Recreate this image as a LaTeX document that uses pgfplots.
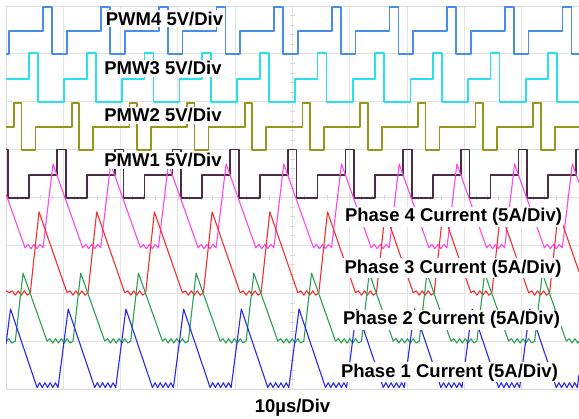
\documentclass[border=0pt]{standalone}
\usepackage{pgfplots}
\pgfplotsset{compat=1.18}
\usepackage{fontspec}
\setmainfont{Liberation Sans}
\definecolor{pwmfour}{RGB}{70,142,232}
\definecolor{pwmthree}{RGB}{40,225,240}
\definecolor{pwmtwo}{RGB}{150,150,30}
\definecolor{pwmone}{RGB}{75,45,65}
\definecolor{curfour}{RGB}{255,70,235}
\definecolor{curthree}{RGB}{245,45,45}
\definecolor{curtwo}{RGB}{40,160,80}
\definecolor{curone}{RGB}{40,40,235}
\tikzset{lab/.style={anchor=base, fill=white, inner sep=1.5pt, font=\fontsize{18.5}{20}\selectfont\bfseries}}
\pgfplotsset{pwm/.style={const plot mark left, line width=1.7pt, line join=round},
  cur/.style={sharp plot, line width=1.1pt, line join=round}}
\begin{document}
\begin{tikzpicture}
\path[use as bounding box] (-6pt,-30pt) rectangle (573pt,389pt);
\begin{axis}[at={(0,0)}, anchor=south west, scale only axis,
  width=573pt, height=383pt,
  xmin=0, xmax=100, ymin=0, ymax=8,
  xtick={0,10,...,100}, ytick={0,1,...,8},
  xticklabels={}, yticklabels={},
  major tick length=0pt,
  grid=major, major grid style={gray!22, line width=0.9pt},
  axis line style={gray!30, line width=0.9pt}]
\pgfplotsinvokeforeach{0,0.2,...,8}{\draw[gray!30, line width=0.6pt] (axis cs:49.65,#1) -- (axis cs:50.35,#1);}
\pgfplotsinvokeforeach{0,2,...,100}{\draw[gray!30, line width=0.6pt] (axis cs:#1,3.955) -- (axis cs:#1,4.045);}
% PWM4
\addplot[pwm, pwmfour] coordinates {(0,7.00) (0.58,7.48) (6.51,7.98) (8.08,7.00) (10.65,7.48) (16.58,7.98) (18.15,7.00) (20.72,7.48) (26.65,7.98) (28.22,7.00) (30.79,7.48) (36.72,7.98) (38.29,7.00) (40.86,7.48) (46.79,7.98) (48.36,7.00) (50.93,7.48) (56.86,7.98) (58.43,7.00) (61.00,7.48) (66.93,7.98) (68.50,7.00) (71.07,7.48) (77.00,7.98) (78.57,7.00) (81.14,7.48) (87.07,7.98) (88.64,7.00) (91.21,7.48) (97.14,7.98) (98.71,7.00) (100,7.00)};
% PWM3
\addplot[pwm, pwmthree] coordinates {(0,6.48) (4.01,7.02) (5.58,5.99) (10.16,6.48) (14.08,7.02) (15.65,5.99) (20.23,6.48) (24.15,7.02) (25.72,5.99) (30.30,6.48) (34.22,7.02) (35.79,5.99) (40.37,6.48) (44.29,7.02) (45.86,5.99) (50.44,6.48) (54.36,7.02) (55.93,5.99) (60.51,6.48) (64.43,7.02) (66.00,5.99) (70.58,6.48) (74.50,7.02) (76.07,5.99) (80.65,6.48) (84.57,7.02) (86.14,5.99) (90.72,6.48) (94.64,7.02) (96.21,5.99) (100,5.99)};
% PWM2
\addplot[pwm, pwmtwo] coordinates {(0,5.47) (1.40,5.97) (2.71,4.99) (5.15,5.47) (11.47,5.97) (12.78,4.99) (15.22,5.47) (21.54,5.97) (22.85,4.99) (25.29,5.47) (31.61,5.97) (32.92,4.99) (35.36,5.47) (41.68,5.97) (42.99,4.99) (45.43,5.47) (51.75,5.97) (53.06,4.99) (55.50,5.47) (61.82,5.97) (63.13,4.99) (65.57,5.47) (71.89,5.97) (73.20,4.99) (75.64,5.47) (81.96,5.97) (83.27,4.99) (85.71,5.47) (92.03,5.97) (93.34,4.99) (95.78,5.47) (100,5.47)};
% PWM1
\addplot[pwm, pwmone] coordinates {(0,5.00) (0.35,3.99) (4.01,4.47) (8.90,5.00) (10.42,3.99) (14.08,4.47) (18.97,5.00) (20.49,3.99) (24.15,4.47) (29.04,5.00) (30.56,3.99) (34.22,4.47) (39.11,5.00) (40.63,3.99) (44.29,4.47) (49.18,5.00) (50.70,3.99) (54.36,4.47) (59.25,5.00) (60.77,3.99) (64.43,4.47) (69.32,5.00) (70.84,3.99) (74.50,4.47) (79.39,5.00) (80.91,3.99) (84.57,4.47) (89.46,5.00) (90.98,3.99) (94.64,4.47) (99.53,5.00) (100,5.00)};
% Phase 4 current
\addplot[cur, curfour] coordinates {(0,4.07)
(3.32,2.95) (3.84,3.02) (4.36,2.93) (4.88,3.02) (5.40,2.93) (5.92,3.02) (6.46,2.95) (8.20,4.70)
(13.39,2.95) (13.91,3.02) (14.43,2.93) (14.95,3.02) (15.47,2.93) (15.99,3.02) (16.53,2.95) (18.27,4.70)
(23.46,2.95) (23.98,3.02) (24.50,2.93) (25.02,3.02) (25.54,2.93) (26.06,3.02) (26.60,2.95) (28.34,4.70)
(33.53,2.95) (34.05,3.02) (34.57,2.93) (35.09,3.02) (35.61,2.93) (36.13,3.02) (36.67,2.95) (38.41,4.70)
(43.60,2.95) (44.12,3.02) (44.64,2.93) (45.16,3.02) (45.68,2.93) (46.20,3.02) (46.74,2.95) (48.48,4.70)
(53.67,2.95) (54.19,3.02) (54.71,2.93) (55.23,3.02) (55.75,2.93) (56.27,3.02) (56.81,2.95) (58.55,4.70)
(63.74,2.95) (64.26,3.02) (64.78,2.93) (65.30,3.02) (65.82,2.93) (66.34,3.02) (66.88,2.95) (68.62,4.70)
(73.81,2.95) (74.33,3.02) (74.85,2.93) (75.37,3.02) (75.89,2.93) (76.41,3.02) (76.95,2.95) (78.69,4.70)
(83.88,2.95) (84.40,3.02) (84.92,2.93) (85.44,3.02) (85.96,2.93) (86.48,3.02) (87.02,2.95) (88.76,4.70)
(93.95,2.95) (94.47,3.02) (94.99,2.93) (95.51,3.02) (96.03,2.93) (96.55,3.02) (97.09,2.95) (98.83,4.70)
(100,4.31)};
% Phase 3 current
\addplot[cur, curthree] coordinates {(0,2.05)
(0.58,2.01) (1.10,2.05) (1.62,1.96) (2.14,2.05) (2.66,1.96) (3.18,2.05) (3.70,1.96) (4.24,2.01) (5.76,3.70)
(10.65,2.01) (11.17,2.05) (11.69,1.96) (12.21,2.05) (12.73,1.96) (13.25,2.05) (13.77,1.96) (14.31,2.01) (15.83,3.70)
(20.72,2.01) (21.24,2.05) (21.76,1.96) (22.28,2.05) (22.80,1.96) (23.32,2.05) (23.84,1.96) (24.38,2.01) (25.90,3.70)
(30.79,2.01) (31.31,2.05) (31.83,1.96) (32.35,2.05) (32.87,1.96) (33.39,2.05) (33.91,1.96) (34.45,2.01) (35.97,3.70)
(40.86,2.01) (41.38,2.05) (41.90,1.96) (42.42,2.05) (42.94,1.96) (43.46,2.05) (43.98,1.96) (44.52,2.01) (46.04,3.70)
(50.93,2.01) (51.45,2.05) (51.97,1.96) (52.49,2.05) (53.01,1.96) (53.53,2.05) (54.05,1.96) (54.59,2.01) (56.11,3.70)
(61.00,2.01) (61.52,2.05) (62.04,1.96) (62.56,2.05) (63.08,1.96) (63.60,2.05) (64.12,1.96) (64.66,2.01) (66.18,3.70)
(71.07,2.01) (71.59,2.05) (72.11,1.96) (72.63,2.05) (73.15,1.96) (73.67,2.05) (74.19,1.96) (74.73,2.01) (76.25,3.70)
(81.14,2.01) (81.66,2.05) (82.18,1.96) (82.70,2.05) (83.22,1.96) (83.74,2.05) (84.26,1.96) (84.80,2.01) (86.32,3.70)
(91.21,2.01) (91.73,2.05) (92.25,1.96) (92.77,2.05) (93.29,1.96) (93.81,2.05) (94.33,1.96) (94.87,2.01) (96.39,3.70)
(100,2.45)};
% Phase 2 current
\addplot[cur, curtwo] coordinates {(0,1.00) (0.50,1.05) (1.00,0.96) (1.62,1.00) (2.97,2.42)
(7.16,1.00) (7.66,1.05) (8.16,0.96) (8.66,1.05) (9.16,0.96) (9.66,1.05) (10.16,0.96) (10.66,1.05) (11.16,0.96) (11.69,1.00) (13.04,2.42)
(17.23,1.00) (17.73,1.05) (18.23,0.96) (18.73,1.05) (19.23,0.96) (19.73,1.05) (20.23,0.96) (20.73,1.05) (21.23,0.96) (21.76,1.00) (23.11,2.42)
(27.30,1.00) (27.80,1.05) (28.30,0.96) (28.80,1.05) (29.30,0.96) (29.80,1.05) (30.30,0.96) (30.80,1.05) (31.30,0.96) (31.83,1.00) (33.18,2.42)
(37.37,1.00) (37.87,1.05) (38.37,0.96) (38.87,1.05) (39.37,0.96) (39.87,1.05) (40.37,0.96) (40.87,1.05) (41.37,0.96) (41.90,1.00) (43.25,2.42)
(47.44,1.00) (47.94,1.05) (48.44,0.96) (48.94,1.05) (49.44,0.96) (49.94,1.05) (50.44,0.96) (50.94,1.05) (51.44,0.96) (51.97,1.00) (53.32,2.42)
(57.51,1.00) (58.01,1.05) (58.51,0.96) (59.01,1.05) (59.51,0.96) (60.01,1.05) (60.51,0.96) (61.01,1.05) (61.51,0.96) (62.04,1.00) (63.39,2.42)
(67.58,1.00) (68.08,1.05) (68.58,0.96) (69.08,1.05) (69.58,0.96) (70.08,1.05) (70.58,0.96) (71.08,1.05) (71.58,0.96) (72.11,1.00) (73.46,2.42)
(77.65,1.00) (78.15,1.05) (78.65,0.96) (79.15,1.05) (79.65,0.96) (80.15,1.05) (80.65,0.96) (81.15,1.05) (81.65,0.96) (82.18,1.00) (83.53,2.42)
(87.72,1.00) (88.22,1.05) (88.72,0.96) (89.22,1.05) (89.72,0.96) (90.22,1.05) (90.72,0.96) (91.22,1.05) (91.72,0.96) (92.25,1.00) (93.60,2.42)
(97.79,1.00) (98.29,1.05) (98.79,0.96) (99.29,1.05) (99.79,0.96) (100,1.00)};
% Phase 1 current
\addplot[cur, curone] coordinates {(0,0.94) (0.79,1.67)
(5.41,0.03) (5.87,0.13) (6.33,0.03) (6.79,0.13) (7.25,0.03) (7.71,0.13) (8.17,0.03) (8.63,0.13) (9.08,0.03) (10.86,1.67)
(15.48,0.03) (15.94,0.13) (16.40,0.03) (16.86,0.13) (17.32,0.03) (17.78,0.13) (18.24,0.03) (18.70,0.13) (19.15,0.03) (20.93,1.67)
(25.55,0.03) (26.01,0.13) (26.47,0.03) (26.93,0.13) (27.39,0.03) (27.85,0.13) (28.31,0.03) (28.77,0.13) (29.22,0.03) (31.00,1.67)
(35.62,0.03) (36.08,0.13) (36.54,0.03) (37.00,0.13) (37.46,0.03) (37.92,0.13) (38.38,0.03) (38.84,0.13) (39.29,0.03) (41.07,1.67)
(45.69,0.03) (46.15,0.13) (46.61,0.03) (47.07,0.13) (47.53,0.03) (47.99,0.13) (48.45,0.03) (48.91,0.13) (49.36,0.03) (51.14,1.67)
(55.76,0.03) (56.22,0.13) (56.68,0.03) (57.14,0.13) (57.60,0.03) (58.06,0.13) (58.52,0.03) (58.98,0.13) (59.43,0.03) (61.21,1.67)
(65.83,0.03) (66.29,0.13) (66.75,0.03) (67.21,0.13) (67.67,0.03) (68.13,0.13) (68.59,0.03) (69.05,0.13) (69.50,0.03) (71.28,1.67)
(75.90,0.03) (76.36,0.13) (76.82,0.03) (77.28,0.13) (77.74,0.03) (78.20,0.13) (78.66,0.03) (79.12,0.13) (79.57,0.03) (81.35,1.67)
(85.97,0.03) (86.43,0.13) (86.89,0.03) (87.35,0.13) (87.81,0.03) (88.27,0.13) (88.73,0.03) (89.19,0.13) (89.64,0.03) (91.42,1.67)
(96.04,0.03) (96.50,0.13) (96.96,0.03) (97.42,0.13) (97.88,0.03) (98.34,0.13) (98.80,0.03) (99.26,0.13) (99.71,0.03) (100,0.30)};
% labels
\node[lab] at (axis cs:27.66,7.60) {PWM4 5V/Div};
\node[lab] at (axis cs:27.40,6.56) {PMW3 5V/Div};
\node[lab] at (axis cs:27.40,5.58) {PMW2 5V/Div};
\node[lab] at (axis cs:27.40,4.64) {PMW1 5V/Div};
\node[lab] at (axis cs:78.10,3.49) {Phase 4 Current (5A/Div)};
\node[lab] at (axis cs:78.01,2.42) {Phase 3 Current (5A/Div)};
\node[lab] at (axis cs:77.75,1.34) {Phase 2 Current (5A/Div)};
\node[lab] at (axis cs:77.40,0.25) {Phase 1 Current (5A/Div)};
\end{axis}
\node[anchor=base, inner sep=0pt, font=\fontsize{18.5}{20}\selectfont\bfseries] at (286.5pt,-24pt) {10µs/Div};
\end{tikzpicture}
\end{document}
